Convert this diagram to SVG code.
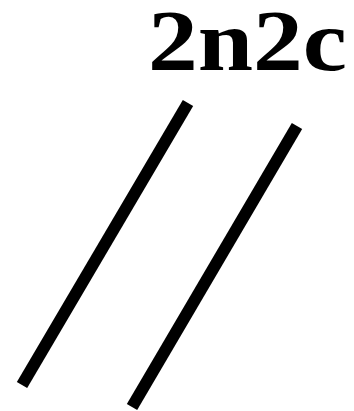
<svg xmlns="http://www.w3.org/2000/svg" width="354" height="411" viewBox="0 0 354 411">
<style>
.lbl{font-family:"Liberation Serif","Times New Roman",serif;font-weight:bold;font-size:87px;fill:#000}
.bar{stroke:#000;stroke-width:12;stroke-linecap:butt;fill:none}
</style>
<rect width="354" height="411" fill="#fff"/>
<g id="label"><text class="lbl" x="148" y="70" textLength="199" lengthAdjust="spacingAndGlyphs">2n2c</text></g>
<g id="connectors">
<line class="bar" x1="188" y1="103" x2="22" y2="385"/>
<line class="bar" x1="297" y1="126" x2="132" y2="407"/>
</g>
</svg>
